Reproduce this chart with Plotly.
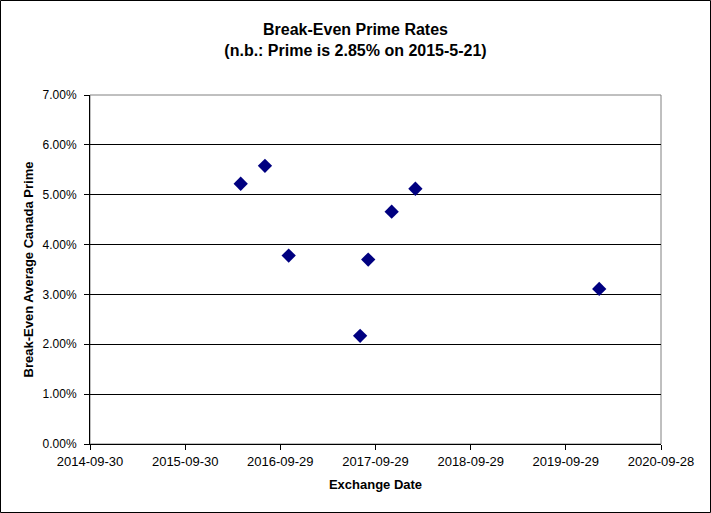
import plotly.graph_objects as go

dates = ["2016-04-30", "2016-08-01", "2016-10-31", "2017-08-01", "2017-09-01",
         "2017-11-30", "2018-03-01", "2020-02-04"]
rates = [5.22, 5.58, 3.78, 2.17, 3.70, 4.66, 5.12, 3.11]

x_ticks = ["2014-09-30", "2015-09-30", "2016-09-29", "2017-09-29",
           "2018-09-29", "2019-09-29", "2020-09-28"]
y_ticks = [0, 1, 2, 3, 4, 5, 6, 7]
y_labels = ["0.00%", "1.00%", "2.00%", "3.00%", "4.00%", "5.00%", "6.00%", "7.00%"]

W, H = 711, 513
L, R, T, B = 90, 50, 95, 69
pw, ph = W - L - R, H - T - B

fig = go.Figure()
fig.add_trace(go.Scatter(
    x=dates, y=rates, mode="markers",
    marker=dict(symbol="diamond", size=11, color="#000080", line=dict(width=0)),
    showlegend=False,
))

font = "Liberation Sans, Arial, sans-serif"
fig.update_layout(
    width=W, height=H,
    margin=dict(l=L, r=R, t=T, b=B, pad=0),
    paper_bgcolor="white", plot_bgcolor="white",
    font=dict(family=font, size=12, color="#000"),
    title=dict(
        text="<b>Break-Even Prime Rates<br>(n.b.: Prime is 2.85% on 2015-5-21)</b>",
        x=0.5, xanchor="center", y=1 - 35 / H, yanchor="middle",
        font=dict(family=font, size=16, color="#000"),
    ),
    xaxis=dict(
        type="date", range=[x_ticks[0], x_ticks[-1]],
        tickvals=x_ticks, ticktext=x_ticks,
        showgrid=False, showline=True, linecolor="#000", linewidth=1,
        ticks="outside", ticklen=5, tickcolor="#000",
        tickfont=dict(size=13, color="#000"),
        title=dict(text="<b>Exchange Date</b>", font=dict(size=13, color="#000"), standoff=12),
        zeroline=False, tickangle=0,
    ),
    yaxis=dict(
        range=[0, 7], tickvals=y_ticks, ticktext=y_labels,
        showgrid=True, gridcolor="#000", gridwidth=1,
        showline=True, linecolor="#000", linewidth=1,
        ticks="outside", ticklen=5, tickcolor="#000",
        tickfont=dict(size=12, color="#000"), ticklabelstandoff=5,
        title=dict(text="<b>Break-Even Average Canada Prime</b>", font=dict(size=13, color="#000"), standoff=6),
        zeroline=False,
    ),
)

# plot area border (gray)
fig.add_shape(type="rect", xref="paper", yref="paper", x0=0, x1=1, y0=0, y1=1,
              line=dict(color="#808080", width=1), layer="below")
# outer chart border
fig.add_shape(type="rect", xref="paper", yref="paper",
              x0=(0.5 - L) / pw, x1=(W - 0.5 - L) / pw,
              y0=-(B - 0.5) / ph, y1=(H - B - 0.5) / ph,
              line=dict(color="#000", width=1))

fig.write_html("out.html", config={"displayModeBar": False},
               post_script="document.body.style.margin='0px';")
